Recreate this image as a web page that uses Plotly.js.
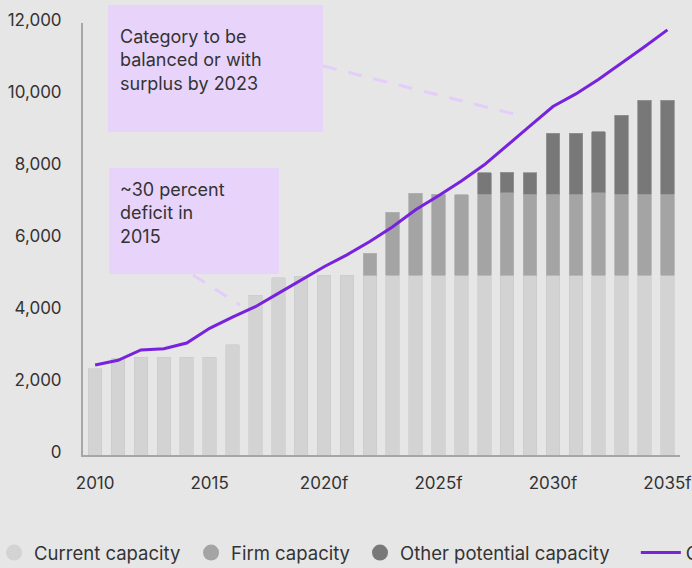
<!DOCTYPE html>
<html>
<head>
<meta charset="utf-8">
<script src="https://cdn.plot.ly/plotly-3.0.1.min.js"></script>
<style>
  html, body { margin: 0; padding: 0; background: #e6e6e6; }
  #chart { width: 692px; height: 568px; }
</style>
</head>
<body>
<div id="chart"></div>
<script>
// ---- Data ----
const years = [2010, 2011, 2012, 2013, 2014, 2015, 2016, 2017, 2018, 2019, 2020, 2021, 2022,
               2023, 2024, 2025, 2026, 2027, 2028, 2029, 2030, 2031, 2032, 2033, 2034, 2035];
const currentCapacity = [2390, 2690, 2720, 2720, 2720, 2720, 3060, 4440, 4920, 4970, 5000, 5000, 5000,
                         5000, 5000, 5000, 5000, 5000, 5000, 5000, 5000, 5000, 5000, 5000, 5000, 5000];
const firmCapacity = [null, null, null, null, null, null, null, null, null, null, null, null, 600,
                      1740, 2270, 2240, 2230, 2250, 2290, 2250, 2250, 2250, 2290, 2250, 2250, 2250];
const otherCapacity = [null, null, null, null, null, null, null, null, null, null, null, null, null,
                       null, null, null, null, 590, 560, 590, 1690, 1690, 1690, 2190, 2610, 2610];
const demand = [2500, 2630, 2920, 2950, 3110, 3520, 3830, 4120, 4490, 4860, 5230, 5560, 5930,
                6340, 6810, 7200, 7610, 8060, 8610, 9140, 9680, 10030, 10440, 10880, 11340, 11810];
const xTickVals = [2010, 2015, 2020, 2025, 2030, 2035];
const xTickText = ["2010", "2015", "2020f", "2025f", "2030f", "2035f"];
const yTickVals = [0, 2000, 4000, 6000, 8000, 10000, 12000];
const seriesNames = ["Current capacity", "Firm capacity", "Other potential capacity", "Consumption"];
const noteTop = "Category to be<br>balanced or with<br>surplus by 2023";
const noteBottom = "~30 percent<br>deficit in<br>2015";

// ---- Styles ----
const FONT = "Inter, 'Noto Sans', 'DejaVu Sans', sans-serif";
const TXT = "#333333";
const BG = "#e6e6e6";
const C_CURRENT = "#d3d3d3";
const C_FIRM = "#a4a4a4";
const C_OTHER = "#787878";
const C_LINE = "#7722dd";
const C_BOX = "#e8d4fb";
const C_DASH = "#e4cdfb";

const traces = [
  { type: "bar", x: years, y: currentCapacity, name: seriesNames[0], showlegend: false,
    marker: { color: C_CURRENT, line: { width: 0.6, color: "#cacaca" } }, hoverinfo: "x+y" },
  { type: "bar", x: years, y: firmCapacity, name: seriesNames[1], showlegend: false,
    marker: { color: C_FIRM, line: { width: 0.8, color: "#b2b2b2" } }, hoverinfo: "x+y" },
  { type: "bar", x: years, y: otherCapacity, name: seriesNames[2], showlegend: false,
    marker: { color: C_OTHER, line: { width: 0.8, color: "#959595" } }, hoverinfo: "x+y" },
  { type: "scatter", mode: "lines", x: years, y: demand, name: seriesNames[3],
    line: { color: C_LINE, width: 3 }, legend: "legend4", showlegend: true },
  // legend-only entries (circle swatches)
  { type: "scatter", mode: "markers", x: [null], y: [null], name: seriesNames[0],
    marker: { symbol: "circle", size: 19, color: C_CURRENT }, legend: "legend" },
  { type: "scatter", mode: "markers", x: [null], y: [null], name: seriesNames[1],
    marker: { symbol: "circle", size: 19, color: C_FIRM }, legend: "legend2" },
  { type: "scatter", mode: "markers", x: [null], y: [null], name: seriesNames[2],
    marker: { symbol: "circle", size: 19, color: C_OTHER }, legend: "legend3" }
];

const legBase = { orientation: "h", yanchor: "middle", y: -0.227, xanchor: "left",
                  bgcolor: "rgba(0,0,0,0)", borderwidth: 0,
                  font: { family: FONT, size: 18.5, color: TXT } };

const layout = {
  width: 692, height: 568,
  margin: { l: 83, r: 12, t: 23, b: 113, pad: 0, autoexpand: false },
  paper_bgcolor: BG, plot_bgcolor: BG,
  font: { family: FONT, size: 17, color: TXT },
  barmode: "stack", bargap: 0.41,
  showlegend: true,
  legend: Object.assign({}, legBase, { x: -0.149 }),
  legend2: Object.assign({}, legBase, { x: 0.181 }),
  legend3: Object.assign({}, legBase, { x: 0.464 }),
  legend4: Object.assign({}, legBase, { x: 0.926, itemwidth: 40 }),
  xaxis: {
    range: [2009.47, 2035.55], tickmode: "array", tickvals: xTickVals, ticktext: xTickText,
    showgrid: false, zeroline: false, showline: true, linecolor: "#a6a6a6", linewidth: 2,
    ticks: "", ticklabelstandoff: 12, ticklabeloverflow: "allow", automargin: false,
    tickfont: { family: FONT, size: 17, color: TXT }
  },
  yaxis: {
    range: [0, 12000], tickmode: "array", tickvals: yTickVals, tickformat: ",",
    showgrid: false, zeroline: false, showline: true, linecolor: "#a6a6a6", linewidth: 2,
    ticks: "", ticklabelstandoff: 16, ticklabelshift: -3, automargin: false,
    tickfont: { family: FONT, size: 17, color: TXT }
  },
  shapes: [
    { type: "rect", xref: "paper", yref: "paper", x0: 0.0419, x1: 0.402, y0: 0.7477, y1: 1.0417,
      fillcolor: C_BOX, line: { width: 0 }, layer: "above" },
    { type: "rect", xref: "paper", yref: "paper", x0: 0.0436, x1: 0.3283, y0: 0.419, y1: 0.6644,
      fillcolor: C_BOX, line: { width: 0 }, layer: "above" },
    { type: "line", xref: "paper", yref: "paper", x0: 0.402, y0: 0.9005, x1: 0.7286, y1: 0.787,
      line: { color: C_DASH, width: 3, dash: "14px,12px" }, layer: "above" },
    { type: "line", xref: "paper", yref: "paper", x0: 0.1843, y0: 0.4167, x1: 0.263, y1: 0.347,
      line: { color: C_DASH, width: 3, dash: "14px,12px" }, layer: "above" }
  ],
  annotations: [
    { xref: "paper", yref: "paper", x: 0.0585, y: 0.997, xanchor: "left", yanchor: "top",
      align: "left", showarrow: false, text: noteTop, font: { family: FONT, size: 18, color: TXT } },
    { xref: "paper", yref: "paper", x: 0.0585, y: 0.643, xanchor: "left", yanchor: "top",
      align: "left", showarrow: false, text: noteBottom, font: { family: FONT, size: 18, color: TXT } }
  ]
};

Plotly.newPlot("chart", traces, layout, { displayModeBar: false, staticPlot: true });
</script>
</body>
</html>
